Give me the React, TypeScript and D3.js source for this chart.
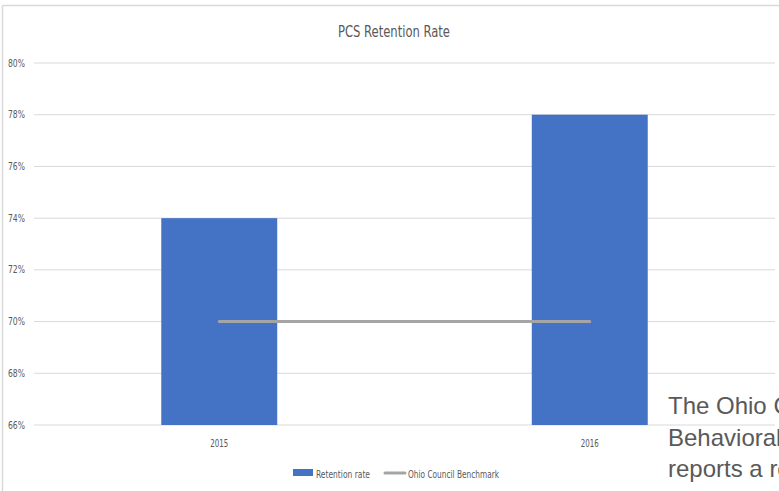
import React from "react";
import * as d3 from "d3";

const categories = ["2015", "2016"];
const retentionRate = [0.74, 0.78];
const benchmark = [0.70, 0.70];
const yTicks = [0.66, 0.68, 0.70, 0.72, 0.74, 0.76, 0.78, 0.80];
const title = "PCS Retention Rate";
const legendLabels = ["Retention rate", "Ohio Council Benchmark"];
const overlayLines = ["The Ohio Council of", "Behavioral Health", "reports a retention"];

const W = 779;
const H = 491;
const FONT = "'DejaVu Sans Condensed', 'Open Sans', sans-serif";

export default function App() {
  const x = d3
    .scaleBand<string>()
    .domain(categories)
    .range([34, 775])
    .paddingInner(0.687)
    .paddingOuter(0.687 / 2);
  const y = d3.scaleLinear().domain([0.66, 0.8]).range([425, 63]);
  const line = d3
    .line<number>()
    .x((_, i) => (x(categories[i]) as number) + x.bandwidth() / 2)
    .y((d) => y(d));
  const fmt = d3.format(".0%");

  return (
    <svg
      width={W}
      height={H}
      style={{ position: "fixed", left: 0, top: 0, background: "#fff" }}
    >
      <rect x={0} y={0} width={W} height={H} fill="#fff" />
      {/* frame */}
      <line x1={2.5} y1={5.5} x2={W} y2={5.5} stroke="#D9D9D9" strokeWidth={1.5} />
      <line x1={2.5} y1={5.5} x2={2.5} y2={H} stroke="#D9D9D9" strokeWidth={1.5} />
      <text
        x={338}
        y={37}
        fontFamily={FONT}
        fontSize={15}
        fill="#595959"
        textLength={112}
        lengthAdjust="spacingAndGlyphs"
      >
        {title}
      </text>
      {yTicks.map((t) => (
        <g key={t}>
          <line x1={34} x2={775} y1={y(t)} y2={y(t)} stroke="#D9D9D9" strokeWidth={1} />
          <text
            x={8}
            y={y(t) + 3.5}
            fontFamily={FONT}
            fontSize={10}
            fill="#595959"
            textLength={17}
            lengthAdjust="spacingAndGlyphs"
          >
            {fmt(t)}
          </text>
        </g>
      ))}
      {categories.map((c, i) => (
        <rect
          key={c}
          x={x(c)}
          y={y(retentionRate[i])}
          width={x.bandwidth()}
          height={y(0.66) - y(retentionRate[i])}
          fill="#4472C4"
        />
      ))}
      <path d={line(benchmark) || ""} fill="none" stroke="#A5A5A5" strokeWidth={3} strokeLinecap="round" />
      {categories.map((c) => (
        <text
          key={c}
          x={(x(c) as number) + x.bandwidth() / 2 - 9}
          y={447}
          fontFamily={FONT}
          fontSize={10}
          fill="#595959"
          textLength={18}
          lengthAdjust="spacingAndGlyphs"
        >
          {c}
        </text>
      ))}
      {/* legend */}
      <rect x={293} y={469} width={20} height={7} fill="#4472C4" />
      <text x={316} y={478} fontFamily={FONT} fontSize={10} fill="#595959" textLength={54} lengthAdjust="spacingAndGlyphs">
        {legendLabels[0]}
      </text>
      <line x1={385} x2={405} y1={473} y2={473} stroke="#A5A5A5" strokeWidth={3} strokeLinecap="round" />
      <text x={408} y={478} fontFamily={FONT} fontSize={10} fill="#595959" textLength={91} lengthAdjust="spacingAndGlyphs">
        {legendLabels[1]}
      </text>
      {/* overlapping text box */}
      {overlayLines.map((l, i) => (
        <text
          key={i}
          x={668}
          y={414 + i * 31.5}
          fontFamily="'Liberation Sans', Arial, sans-serif"
          fontSize={24}
          fill="#595959"
        >
          {l}
        </text>
      ))}
    </svg>
  );
}
